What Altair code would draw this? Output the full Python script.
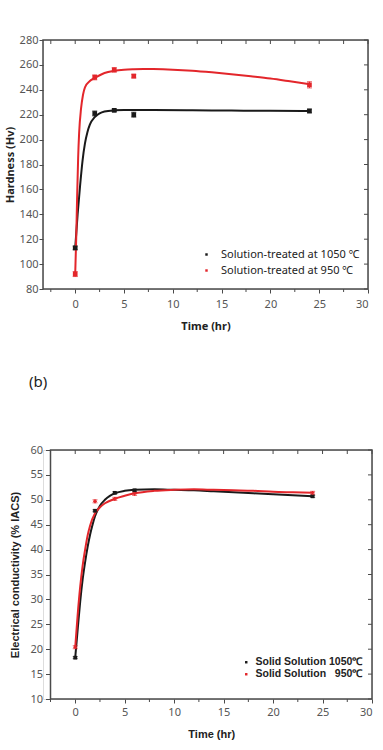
import altair as alt
import pandas as pd

RED = "#e3262b"
BLACK = "#1a1a1a"
FRAME = "#4a4a4a"

# ---------------- (a) Hardness ----------------
a_series = ["Solution-treated at 1050 \u2103", "Solution-treated at 950 \u2103"]
a_t = [0, 2, 4, 6, 24]
a_black = [113, 221, 223.5, 220, 223]
a_black_err = [1.5, 2.0, 1.0, 2.0, 1.5]
a_red = [92, 250, 256, 251, 244]
a_red_err = [2.0, 2.0, 1.8, 1.5, 2.5]

a_fit_black_t = [0, 0.25, 0.5, 0.75, 1, 1.25, 1.5, 2, 2.5, 3, 4, 5, 6, 8, 12, 16, 20, 24]
a_fit_black_v = [113, 140, 163, 183, 197, 206, 212, 218, 221, 222.5, 223.5, 223.8, 223.8, 223.7, 223.5, 223.3, 223.1, 223]
a_fit_red_t = [0, 0.1, 0.2, 0.3, 0.4, 0.6, 0.8, 1, 1.5, 2, 3, 4, 5, 6, 7, 8, 10, 12, 14, 16, 18, 20, 22, 24]
a_fit_red_v = [92, 120, 155, 185, 205, 225, 236, 242, 247, 249.5, 253.5, 255.3, 256.2, 256.6, 256.8, 256.7, 256.2, 255.3, 254, 252.5, 250.8, 249, 246.8, 244.5]

a_xmajor = [0, 5, 10, 15, 20, 25, 30]
a_xminor = [-2.5, 2.5, 7.5, 12.5, 17.5, 22.5, 27.5]
a_yticks = [80, 100, 120, 140, 160, 180, 200, 220, 240, 260, 280]

# ---------------- (b) Electrical conductivity ----------------
b_series = ["Solid Solution 1050\u2103", "Solid Solution \u00a0\u00a0950\u2103"]
b_t = [0, 2, 4, 6, 24]
b_black = [18.3, 47.8, 51.4, 51.9, 50.7]
b_black_err = [0.2, 0.2, 0.2, 0.2, 0.2]
b_red = [20.4, 49.7, 50.2, 51.2, 51.4]
b_red_err = [0.3, 0.3, 0.3, 0.3, 0.3]

b_fit_black_t = [0, 0.25, 0.5, 0.75, 1, 1.25, 1.5, 1.75, 2, 2.5, 3, 3.5, 4, 5, 6, 8, 10, 12, 14, 16, 18, 20, 22, 24]
b_fit_black_v = [18.3, 24, 29.5, 34, 37.5, 40.5, 43, 45, 46.7, 48.8, 50.0, 50.8, 51.3, 51.8, 52.0, 52.1, 52.0, 51.9, 51.7, 51.5, 51.3, 51.1, 50.9, 50.7]
b_fit_red_t = [0, 0.25, 0.5, 0.75, 1, 1.25, 1.5, 2, 2.5, 3, 4, 5, 6, 8, 10, 12, 14, 16, 18, 20, 22, 24]
b_fit_red_v = [20.4, 27, 32.5, 36.8, 40, 42.8, 44.8, 47.3, 48.5, 49.3, 50.2, 50.8, 51.3, 51.8, 52.0, 52.1, 52.0, 51.9, 51.8, 51.6, 51.5, 51.4]

b_xmajor = [0, 5, 10, 15, 20, 25, 30]
b_xminor = [-2.5, 2.5, 7.5, 12.5, 17.5, 22.5, 27.5]
b_yticks = [10, 15, 20, 25, 30, 35, 40, 45, 50, 55, 60]

COLORS = [BLACK, RED]


def points_df(series, t, vals_list, errs_list):
    rows = []
    for s, vals, errs in zip(series, vals_list, errs_list):
        for x, v, e in zip(t, vals, errs):
            rows.append({"series": s, "t": x, "v": v, "lo": v - e, "hi": v + e})
    return pd.DataFrame(rows)


def fit_df(series, ts, vs):
    rows = []
    for s, tt, vv in zip(series, ts, vs):
        for x, v in zip(tt, vv):
            rows.append({"series": s, "t": x, "v": v})
    return pd.DataFrame(rows)


def panel(series, pts, fits, xdom, ydom, xmajor, xminor, yticks, ytitle, W, H, xr0,
          shapes, sizes, label_font, label_weight, label_size, legend_x, legend_y,
          title_font, ylab_pad, ytick, ytitle_pad, xlab_pad, xtitle_pad, legend_row_pad,
          legend_label_offset):
    xaxis = alt.Axis(values=xmajor, title="Time (hr)", labelOverlap=False,
                     tickSize=4, labelPadding=xlab_pad, titlePadding=xtitle_pad,
                     titleFont=title_font, titleFontSize=11, titleFontWeight="bold",
                     titleColor="#222", labelFont="Noto Sans", labelFontSize=11,
                     labelColor="#555", grid=False, domain=False, tickColor=FRAME,
                     tickWidth=1)
    yaxis = alt.Axis(values=yticks, title=ytitle, tickSize=ytick, labelOverlap=False,
                     labelPadding=ylab_pad, titlePadding=ytitle_pad, offset=-xr0,
                     titleFont=title_font, titleFontSize=11, titleFontWeight="bold",
                     titleColor="#222", labelFont="Noto Sans", labelFontSize=11,
                     labelColor="#555", grid=False, domain=False, tickColor=FRAME,
                     tickWidth=1)
    xs = alt.Scale(domain=xdom, range=[xr0, W], nice=False, zero=False)
    ys = alt.Scale(domain=ydom, nice=False, zero=False)
    X = lambda f: alt.X(f, type="quantitative", scale=xs, axis=xaxis)
    Y = lambda f: alt.Y(f, type="quantitative", scale=ys, axis=yaxis)

    frame = alt.Chart(pd.DataFrame({"k": [0]})).mark_rect(
        filled=False, stroke=FRAME, strokeWidth=1.5).encode(
        x=alt.X(datum=xdom[0], type="quantitative", scale=xs, axis=xaxis),
        x2=alt.datum(xdom[1]),
        y=alt.Y(datum=ydom[0], type="quantitative", scale=ys, axis=yaxis),
        y2=alt.datum(ydom[1]))

    layers = [frame]
    for i, s in enumerate(series):
        c = COLORS[i]
        f_fit = alt.Chart(fits).transform_filter(alt.datum.series == s)
        f_pts = alt.Chart(pts).transform_filter(alt.datum.series == s)
        layers.append(f_fit.mark_line(strokeWidth=2, interpolate="monotone", color=c)
                      .encode(x=X("t"), y=Y("v")))
        layers.append(f_pts.mark_rule(strokeWidth=1, color=c)
                      .encode(x=X("t"), y=Y("lo"), y2="hi:Q"))
        layers.append(f_pts.mark_tick(orient="horizontal", size=5, thickness=1, color=c)
                      .encode(x=X("t"), y=Y("lo")))
        layers.append(f_pts.mark_tick(orient="horizontal", size=5, thickness=1, color=c)
                      .encode(x=X("t"), y=Y("hi")))

    legend = alt.Legend(title=None, orient="none", legendX=legend_x, legendY=legend_y,
                        padding=0, symbolSize=6, symbolType="square", symbolStrokeWidth=0,
                        labelFont=label_font, labelFontWeight=label_weight,
                        labelFontSize=label_size, labelColor="#222",
                        labelOffset=legend_label_offset, rowPadding=legend_row_pad,
                        labelLimit=300)
    color_scale = alt.Scale(domain=series, range=COLORS)
    for i, s in enumerate(series):
        layers.append(
            alt.Chart(pts).transform_filter(alt.datum.series == s)
            .mark_point(filled=True, opacity=1, shape=shapes[i], size=sizes[i])
            .encode(x=X("t"), y=Y("v"),
                    color=alt.Color("series:N", scale=color_scale, legend=legend)))

    all_ticks = pd.DataFrame({"t": sorted(xmajor + xminor)})
    minor = pd.DataFrame({"t": xminor})
    ydf = pd.DataFrame({"v": yticks})
    layers.append(alt.Chart(all_ticks).mark_rule(color=FRAME, strokeWidth=1).encode(
        x=X("t"), y=alt.value(0), y2=alt.value(4)))
    layers.append(alt.Chart(minor).mark_rule(color=FRAME, strokeWidth=1).encode(
        x=X("t"), y=alt.value(H), y2=alt.value(H + 3)))
    layers.append(alt.Chart(ydf).mark_rule(color=FRAME, strokeWidth=1).encode(
        y=Y("v"), x=alt.value(W - 4), x2=alt.value(W)))

    return alt.layer(*layers).properties(width=W, height=H)


a_pts = points_df(a_series, a_t, [a_black, a_red], [a_black_err, a_red_err])
a_fit = fit_df(a_series, [a_fit_black_t, a_fit_red_t], [a_fit_black_v, a_fit_red_v])
b_pts = points_df(b_series, b_t, [b_black, b_red], [b_black_err, b_red_err])
b_fit = fit_df(b_series, [b_fit_black_t, b_fit_red_t], [b_fit_black_v, b_fit_red_v])

chart_a = panel(a_series, a_pts, a_fit, [-3.3, 30], [80, 280], a_xmajor, a_xminor, a_yticks,
                "Hardness (Hv)", 325, 249, 0, ["square", "square"], [22, 22],
                "Noto Sans", "normal", 11, 158, 209, "Noto Sans", 1, 4, 4, 5, 11, 4, 9)

chart_b = panel(b_series, b_pts, b_fit, [-2.5, 30], [10, 60], b_xmajor, b_xminor, b_yticks,
                "Electrical conductivity (% IACS)", 329, 249, 7.5, ["square", "cross"], [14, 14],
                "Liberation Sans", "bold", 10.5, 198, 207, "Liberation Sans", 3, 5, 9, 3, 11, 1, 4)
chart_b = chart_b.properties(
    title=alt.TitleParams("(b)", anchor="start", frame="group", dx=-14, offset=54,
                          font="Noto Sans", fontSize=15, fontWeight="normal", color="#222"))

chart = alt.vconcat(chart_a, chart_b, spacing=42).resolve_scale(
    color="independent"
).resolve_legend(color="independent").properties(
    padding={"left": 3, "top": 33, "right": 0, "bottom": 5}
).configure_view(strokeWidth=0).configure(background="white")

chart.save("out.html", embed_options={"renderer": "svg", "actions": False})
